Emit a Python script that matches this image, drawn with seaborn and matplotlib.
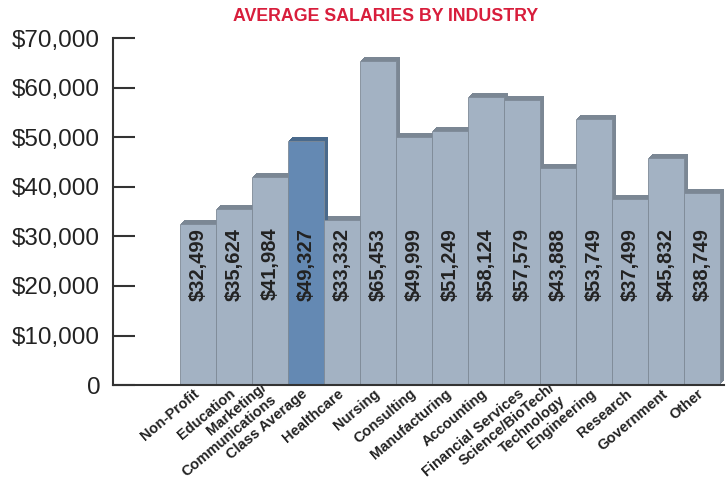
import matplotlib
matplotlib.use("Agg")
import matplotlib.pyplot as plt
import matplotlib.transforms as mtransforms
from matplotlib.ticker import FuncFormatter
import seaborn as sns

industries = ["Non-Profit", "Education", "Marketing/\nCommunications", "Class Average",
              "Healthcare", "Nursing", "Consulting", "Manufacturing", "Accounting",
              "Financial Services", "Science/BioTech/\nTechnology", "Engineering",
              "Research", "Government", "Other"]
salaries = [32499, 35624, 41984, 49327, 33332, 65453, 49999, 51249, 58124,
            57579, 43888, 53749, 37499, 45832, 38749]
highlight = "Class Average"

front = ["#6489B3" if n == highlight else "#A3B2C3" for n in industries]
side = ["#4A6A8C" if n == highlight else "#7B8794" for n in industries]

sns.set_theme(style="white")
plt.rcParams["font.family"] = ["Liberation Sans", "DejaVu Sans"]

fig = plt.figure(figsize=(7.27, 4.95), dpi=100)
ax = fig.add_axes([0.155, 0.222, 0.8403, 0.701])

# extruded side/top faces: dark bars shifted up-right a few pixels
for k in range(1, 5):
    n0 = len(ax.patches)
    sns.barplot(x=industries, y=salaries, hue=industries, palette=side,
                width=1.0, legend=False, ax=ax, linewidth=0, saturation=1)
    off = ax.transData + mtransforms.ScaledTranslation(k / 100, k / 100, fig.dpi_scale_trans)
    for p in ax.patches[n0:]:
        p.set_transform(off)

sns.barplot(x=industries, y=salaries, hue=industries, palette=front, saturation=1,
            width=1.0, legend=False, ax=ax, edgecolor="#7E8A97", linewidth=0.6)

for i, v in enumerate(salaries):
    ax.text(i, 24400, f"${v:,}", rotation=90, ha="center", va="center",
            fontsize=14.5, fontweight="bold", color="#222222")

ax.set_ylim(0, 70000)
ax.set_xlim(-2.36, 14.6)
ax.set_yticks(range(0, 70001, 10000))
ax.yaxis.set_major_formatter(FuncFormatter(lambda v, _: "0" if v == 0 else f"${v:,.0f}"))
ax.tick_params(axis="y", direction="in", length=16, width=1.5, color="#333333",
               labelsize=17.5, pad=9, left=True, labelcolor="#222222")
ax.tick_params(axis="x", length=0, pad=5)
ax.set_xticks(range(len(industries)))
ax.set_xticklabels(industries, rotation=40, ha="right", va="center",
                   rotation_mode="anchor", fontsize=10.5, fontweight="bold",
                   multialignment="right", color="#222222")

for s in ["top", "right"]:
    ax.spines[s].set_visible(False)
for s in ["left", "bottom"]:
    ax.spines[s].set_color("#333333")
    ax.spines[s].set_linewidth(1.5)
ax.set_xlabel("")
ax.set_ylabel("")

fig.text(0.53, 0.966, "AVERAGE SALARIES BY INDUSTRY", ha="center", va="center",
         fontsize=12.8, fontweight="bold", color="#D81E3C")

fig.savefig("out.png", dpi=100)
